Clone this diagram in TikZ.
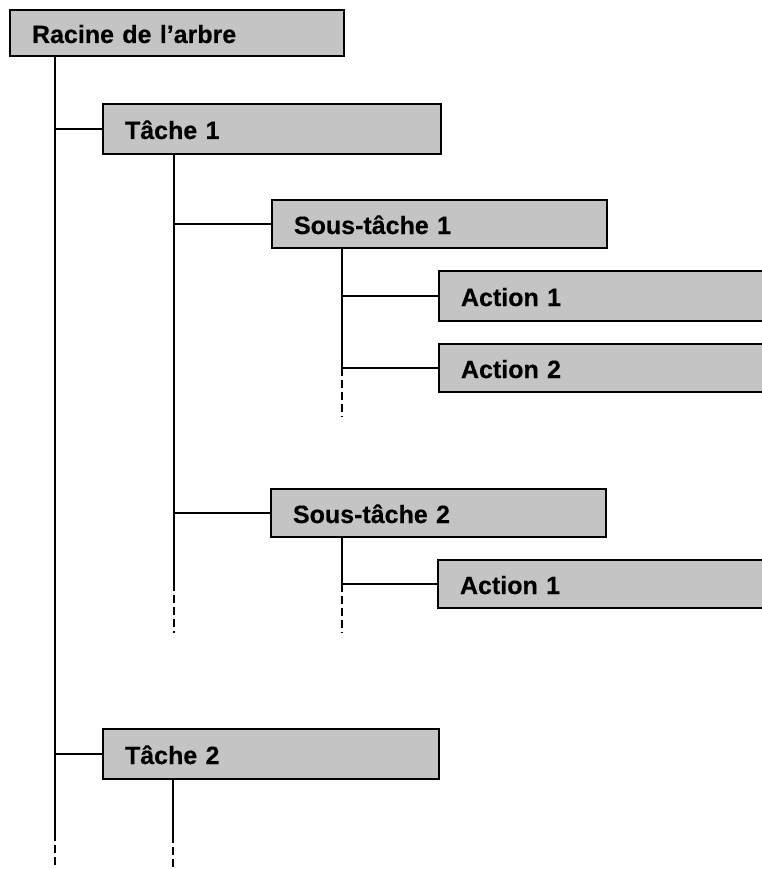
\documentclass[tikz,border=0pt]{standalone}
\usepackage{fontspec}
\newfontfamily\boxfont[FakeBold=0.4]{Liberation Sans}
\definecolor{boxgray}{RGB}{196,196,196}
\begin{document}
\begin{tikzpicture}[x=1pt,y=-1pt,
  box/.style={draw=black, line width=2pt, fill=boxgray, anchor=north west,
    inner xsep=22pt, inner ysep=0pt, text height=20pt, text depth=0pt, align=left,
    font=\boxfont\bfseries\fontsize{25}{25}\selectfont},
  conn/.style={draw=black, line width=1.8pt},
  tail/.style={conn, dash pattern=on 8pt off 4pt}]
\useasboundingbox (0,0) rectangle (762,869);
\clip (0,0) rectangle (762,869);
% boxes
\node[box, text width=290pt, minimum height=46pt] (root) at (9,9) {Racine de l’arbre};
\node[box, text width=294pt, minimum height=50pt] (t1) at (102,103) {Tâche 1};
\node[box, text width=291pt, minimum height=48pt] (s1) at (271,199) {Sous-tâche 1};
\node[box, text width=291pt, minimum height=50pt] (a11) at (438,270) {Action 1};
\node[box, text width=291pt, minimum height=48pt] (a12) at (438,343) {Action 2};
\node[box, text width=291pt, minimum height=48pt] (s2) at (270,488) {Sous-tâche 2};
\node[box, text width=291pt, minimum height=48pt] (a21) at (437,559) {Action 1};
\node[box, text width=292pt, minimum height=50pt] (t2) at (102,728) {Tâche 2};
% column positions
\coordinate (trunk) at (55,0);
\coordinate (c1) at (174,0);
\coordinate (c2) at (342,0);
\coordinate (c3) at (173,0);
% dashed ends
\coordinate (trunkdash) at (55,833);
\coordinate (trunkend) at (55,869);
\coordinate (c1dash) at (174,583);
\coordinate (c1end) at (174,633);
\coordinate (s1end) at (342,417);
\coordinate (s2end) at (342,633);
\coordinate (t2dash) at (173,835);
\coordinate (t2end) at (173,869);
% root trunk
\draw[conn] (root.south -| trunk) -- (trunkdash);
\draw[tail] (trunkdash) -- (trunkend);
\draw[conn] (t1.west -| trunk) -- (t1.west);
\draw[conn] (t2.west -| trunk) -- (t2.west);
% Tache 1 column
\draw[conn] (t1.south -| c1) -- (c1dash);
\draw[tail] (c1dash) -- (c1end);
\draw[conn] (s1.west -| c1) -- (s1.west);
\draw[conn] (s2.west -| c1) -- (s2.west);
% Sous-tache 1 column
\draw[conn] (s1.south -| c2) -- (a12.west -| c2);
\draw[tail] (a12.west -| c2) -- (s1end);
\draw[conn] (a11.west -| c2) -- (a11.west);
\draw[conn] (a12.west -| c2) -- (a12.west);
% Sous-tache 2 column
\draw[conn] (s2.south -| c2) -- (a21.west -| c2);
\draw[tail] (a21.west -| c2) -- (s2end);
\draw[conn] (a21.west -| c2) -- (a21.west);
% Tache 2 column
\draw[conn] (t2.south -| c3) -- (t2dash);
\draw[tail] (t2dash) -- (t2end);
\end{tikzpicture}
\end{document}
